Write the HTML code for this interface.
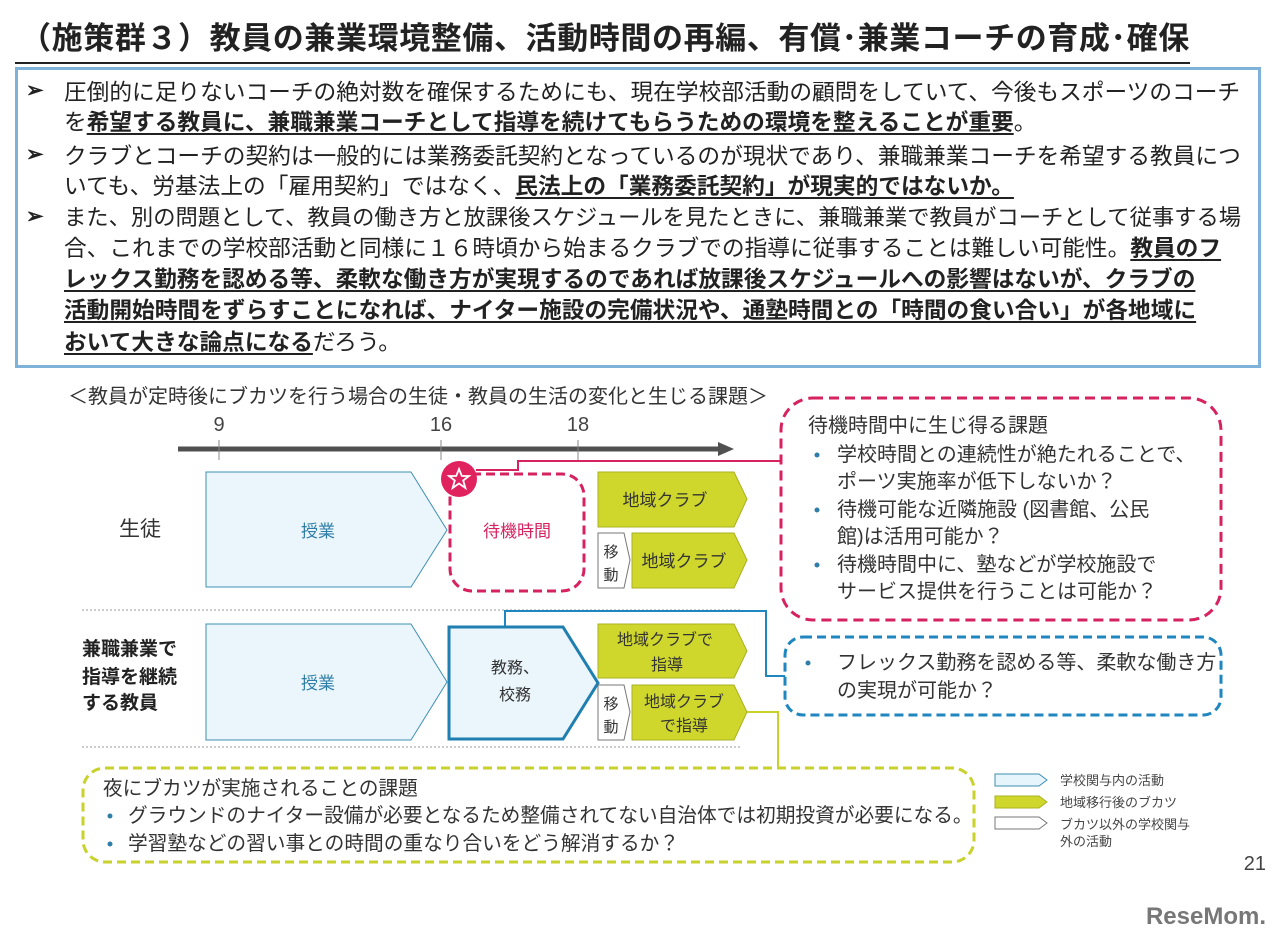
<!DOCTYPE html>
<html><head><meta charset="utf-8"><style>
body{margin:0;width:1280px;height:936px;background:#fff;position:relative;overflow:hidden;font-family:"Liberation Sans","Noto Sans CJK JP",sans-serif;color:#222}
.a{position:absolute;white-space:nowrap}
.t{font-size:31px;font-weight:bold;left:20px;top:13px;letter-spacing:0.6px}
.box{position:absolute;left:15px;top:67px;width:1246px;height:301px;border:3px solid #7fb2d9;box-sizing:border-box}
.l{position:absolute;font-size:22.7px;white-space:nowrap;left:64px;line-height:30px}
.b{position:absolute;left:26px;font-size:21px;font-weight:bold}
u{font-weight:bold;text-decoration-thickness:2px;text-underline-offset:3px}
</style></head><body>
<div class="a t">（施策群３）教員の兼業環境整備、活動時間の再編、有償･兼業コーチの育成･確保</div>
<div class="a" style="left:15px;top:62px;width:1175px;height:2px;background:#222"></div>
<div class="box"></div>
<div class="b" style="top:78px">➢</div><div class="b" style="top:142px">➢</div><div class="b" style="top:204px">➢</div>
<div class="l" style="top:77px">圧倒的に足りないコーチの絶対数を確保するためにも、現在学校部活動の顧問をしていて、今後もスポーツのコーチ</div>
<div class="l" style="top:107px">を<u>希望する教員に、兼職兼業コーチとして指導を続けてもらうための環境を整えることが重要</u>。</div>
<div class="l" style="top:141px">クラブとコーチの契約は一般的には業務委託契約となっているのが現状であり、兼職兼業コーチを希望する教員につ</div>
<div class="l" style="top:171px">いても、労基法上の「雇用契約」ではなく、<u>民法上の「業務委託契約」が現実的ではないか。</u></div>
<div class="l" style="top:203px;font-size:22.3px">また、別の問題として、教員の働き方と放課後スケジュールを見たときに、兼職兼業で教員がコーチとして従事する場</div>
<div class="l" style="top:233px">合、これまでの学校部活動と同様に１６時頃から始まるクラブでの指導に従事することは難しい可能性。<u>教員のフ</u></div>
<div class="l" style="top:264px"><u>レックス勤務を認める等、柔軟な働き方が実現するのであれば放課後スケジュールへの影響はないが、クラブの</u></div>
<div class="l" style="top:295px"><u>活動開始時間をずらすことになれば、ナイター施設の完備状況や、通塾時間との「時間の食い合い」が各地域に</u></div>
<div class="l" style="top:327px"><u>おいて大きな論点になる</u>だろう。</div>

<svg class="a" style="left:0;top:0" width="1280" height="936" font-family="Liberation Sans, Noto Sans CJK JP, sans-serif">
<text x="68" y="403" font-size="20" fill="#333">＜教員が定時後にブカツを行う場合の生徒・教員の生活の変化と生じる課題＞</text>
<g font-size="20" fill="#444" text-anchor="middle"><text x="219" y="431">9</text><text x="441" y="431">16</text><text x="578" y="431">18</text></g>
<line x1="178" y1="449" x2="722" y2="449" stroke="#505050" stroke-width="5"/>
<polygon points="718,442 734,449 718,456" fill="#505050"/>
<g stroke="#888" stroke-width="1"><line x1="219" y1="440" x2="219" y2="460"/><line x1="441" y1="440" x2="441" y2="460"/><line x1="578" y1="440" x2="578" y2="460"/></g>
<polygon points="206,472 411,472 447,530 411,587 206,587" fill="#eaf6fb" stroke="#3f8fb5" stroke-width="1"/>
<text x="318" y="537" font-size="17" fill="#2f7da8" text-anchor="middle">授業</text>
<rect x="450" y="474" width="134" height="117" rx="22" fill="none" stroke="#d6235f" stroke-width="3" stroke-dasharray="9,5"/>
<text x="517" y="537" font-size="17" fill="#d6235f" text-anchor="middle">待機時間</text>
<polyline points="476,470 518,470 518,461 780,461" fill="none" stroke="#d6235f" stroke-width="2"/>
<circle cx="459" cy="479" r="18" fill="#e0225f"/>
<polygon points="459,469 461.8,476 469,476 463.2,480.5 465.4,488 459,483.5 452.6,488 454.8,480.5 449,476 456.2,476" fill="none" stroke="#fff" stroke-width="1.8"/>
<polygon points="598,472 734,472 747,499 734,527 598,527" fill="#cfd72c" stroke="#a9b020"/>
<text x="665" y="506" font-size="17" fill="#333" text-anchor="middle">地域クラブ</text>
<polygon points="598,533 624,533 630,560 624,588 598,588" fill="#fff" stroke="#777"/>
<text x="611" y="557" font-size="15" fill="#333" text-anchor="middle">移</text><text x="611" y="580" font-size="15" fill="#333" text-anchor="middle">動</text>
<polygon points="632,533 734,533 747,560 734,588 632,588" fill="#cfd72c" stroke="#a9b020"/>
<text x="684" y="567" font-size="17" fill="#333" text-anchor="middle">地域クラブ</text>
<text x="140" y="536" font-size="21" fill="#333" text-anchor="middle">生徒</text>
<line x1="82" y1="610" x2="740" y2="610" stroke="#999" stroke-dasharray="2,2"/>
<text x="82" y="655" font-size="19" font-weight="bold" fill="#222">兼職兼業で</text>
<text x="82" y="683" font-size="19" font-weight="bold" fill="#222">指導を継続</text>
<text x="82" y="709" font-size="19" font-weight="bold" fill="#222">する教員</text>
<polygon points="206,624 411,624 447,682 411,740 206,740" fill="#eaf6fb" stroke="#3f8fb5"/>
<text x="318" y="689" font-size="17" fill="#2f7da8" text-anchor="middle">授業</text>
<polyline points="505,626 505,611 766,611 766,676 785,676" fill="none" stroke="#1f86bf" stroke-width="2"/>
<polygon points="449,627 563,627 598,683 563,739 449,739" fill="#eaf6fb" stroke="#1f7fb0" stroke-width="3"/>
<text x="515" y="673" font-size="16" fill="#333" text-anchor="middle">教務、</text>
<text x="515" y="700" font-size="16" fill="#333" text-anchor="middle">校務</text>
<polygon points="598,624 734,624 747,651 734,678 598,678" fill="#cfd72c" stroke="#a9b020"/>
<text x="665" y="645" font-size="16" fill="#333" text-anchor="middle">地域クラブで</text>
<text x="667" y="670" font-size="16" fill="#333" text-anchor="middle">指導</text>
<polygon points="598,685 624,685 630,712 624,740 598,740" fill="#fff" stroke="#777"/>
<text x="611" y="709" font-size="15" fill="#333" text-anchor="middle">移</text><text x="611" y="732" font-size="15" fill="#333" text-anchor="middle">動</text>
<polygon points="632,685 734,685 747,712 734,740 632,740" fill="#cfd72c" stroke="#a9b020"/>
<text x="684" y="707" font-size="16" fill="#333" text-anchor="middle">地域クラブ</text>
<text x="684" y="731" font-size="16" fill="#333" text-anchor="middle">で指導</text>
<polyline points="747,712 778,712 778,768" fill="none" stroke="#c8d22a" stroke-width="2"/>
<line x1="82" y1="747" x2="740" y2="747" stroke="#999" stroke-dasharray="2,2"/>
<rect x="781" y="398" width="440" height="222" rx="32" fill="none" stroke="#d6235f" stroke-width="3" stroke-dasharray="10,6"/>
<g font-size="20" fill="#333">
<text x="808" y="432">待機時間中に生じ得る課題</text>
<text x="837" y="461">学校時間との連続性が絶たれることで、</text>
<text x="837" y="488">ポーツ実施率が低下しないか？</text>
<text x="837" y="516">待機可能な近隣施設 (図書館、公民</text>
<text x="837" y="543">館)は活用可能か？</text>
<text x="837" y="571">待機時間中に、塾などが学校施設で</text>
<text x="837" y="598">サービス提供を行うことは可能か？</text>
<text x="837" y="669">フレックス勤務を認める等、柔軟な働き方</text>
<text x="837" y="697">の実現が可能か？</text>
</g>
<g fill="#2f7da8"><circle cx="817" cy="455" r="2.5"/><circle cx="817" cy="510" r="2.5"/><circle cx="817" cy="565" r="2.5"/><circle cx="808" cy="663" r="2.5"/></g>
<rect x="785" y="637" width="436" height="78" rx="18" fill="none" stroke="#1f86bf" stroke-width="3" stroke-dasharray="9,5"/>
<rect x="83" y="768" width="891" height="94" rx="22" fill="none" stroke="#c8d22a" stroke-width="3" stroke-dasharray="9,5"/>
<g font-size="19.7" fill="#333">
<text x="103" y="795">夜にブカツが実施されることの課題</text>
<text x="128" y="822">グラウンドのナイター設備が必要となるため整備されてない自治体では初期投資が必要になる。</text>
<text x="128" y="850">学習塾などの習い事との時間の重なり合いをどう解消するか？</text>
</g>
<g fill="#2f7da8"><circle cx="110" cy="816" r="2.5"/><circle cx="110" cy="844" r="2.5"/></g>
<polygon points="995,774 1039,774 1047,780 1039,786 995,786" fill="#e6f5fb" stroke="#3f8fb5"/>
<polygon points="995,796 1039,796 1047,802 1039,808 995,808" fill="#cfd72c" stroke="#a9b020"/>
<polygon points="995,817 1039,817 1047,823 1039,829 995,829" fill="#fff" stroke="#777"/>
<g font-size="13" fill="#444"><text x="1060" y="785">学校関与内の活動</text><text x="1060" y="807">地域移行後のブカツ</text><text x="1060" y="829">ブカツ以外の学校関与</text><text x="1060" y="846">外の活動</text></g>
<text x="1266" y="870" font-size="20" fill="#444" text-anchor="end">21</text>
<text x="1266" y="924" font-size="24" font-weight="bold" fill="#777" text-anchor="end">ReseMom.</text>
</svg>
</body></html>
